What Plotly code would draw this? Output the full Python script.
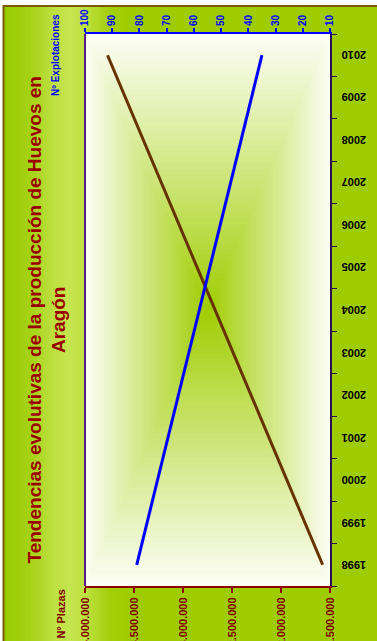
import plotly.graph_objects as go

# ---------------- data ----------------
years = ["1998", "1999", "2000", "2001", "2002", "2003", "2004",
         "2005", "2006", "2007", "2008", "2009", "2010"]
trend_years = ["1998", "2010"]
plazas = [1575000, 3770000]          # Nº Plazas (bottom axis)
explotaciones = [81, 35]              # Nº Explotaciones (top axis)
plazas_ticks = [1500000, 2000000, 2500000, 3000000, 3500000, 4000000]
explot_ticks = [10, 20, 30, 40, 50, 60, 70, 80, 90, 100]

title_text = "Tendencias evolutivas de la producción de Huevos en<br>Aragón"

# ---------------- geometry helpers ----------------
WIDTH, HEIGHT = 377, 641
L, R, T, B = 85, 330, 34, 586
PW, PH = R - L, B - T


def px(x):
    return (x - L) / PW


def py(y):
    return (B - y) / PH


def rgb(c):
    return "rgb(%d,%d,%d)" % tuple(int(round(v)) for v in c)


def lerp(a, b, t):
    return tuple(a[i] + (b[i] - a[i]) * t for i in range(3))


shapes = []

# outer green background with light vertical band on the left
base_green = (159, 204, 0)
shapes.append(dict(type="rect", xref="paper", yref="paper",
                   x0=px(4), x1=px(400), y0=py(6), y1=py(680),
                   fillcolor=rgb(base_green), line=dict(width=0), layer="below"))
stops = [(4, (152, 201, 0)), (30, (166, 210, 22)), (55, (190, 225, 66)),
         (70, (197, 229, 78)), (85, (190, 225, 64)), (110, (163, 206, 10)),
         (130, base_green)]
step = 3
xx = 4
while xx < 130:
    xm = xx + step / 2
    for i in range(len(stops) - 1):
        if stops[i][0] <= xm <= stops[i + 1][0]:
            t = (xm - stops[i][0]) / (stops[i + 1][0] - stops[i][0])
            c = lerp(stops[i][1], stops[i + 1][1], t)
            break
    shapes.append(dict(type="rect", xref="paper", yref="paper",
                       x0=px(xx), x1=px(xx + step + 0.5), y0=py(6), y1=py(680),
                       fillcolor=rgb(c), line=dict(width=0), layer="below"))
    xx += step

# plot area: rectangular gradient white edges -> green centre
edge = (253, 254, 246)
centre = (158, 205, 0)
N = 45
for i in range(N, 0, -1):
    t = i / N
    tm = (i - 0.5) / N
    c = lerp(centre, edge, tm ** 0.95)
    shapes.append(dict(type="rect", xref="paper", yref="paper",
                       x0=0.5 - 0.5 * t, x1=0.5 + 0.5 * t,
                       y0=0.5 - 0.5 * t, y1=0.5 + 0.5 * t,
                       fillcolor=rgb(c), line=dict(width=0), layer="below"))

# left purple border of plot area
shapes.append(dict(type="line", xref="paper", yref="paper",
                   x0=0, x1=0, y0=0, y1=1,
                   line=dict(color="#5a1a8a", width=2), layer="above"))

# outer brown border
shapes.append(dict(type="rect", xref="paper", yref="paper",
                   x0=px(3.5), x1=px(420), y0=py(6), y1=py(700),
                   fillcolor="rgba(0,0,0,0)", line=dict(color="#7a5a00", width=2),
                   layer="above"))

fig = go.Figure()
fig.add_trace(go.Scatter(x=plazas, y=trend_years, xaxis="x", yaxis="y",
                         mode="lines", line=dict(color="#663300", width=3),
                         name="Nº Plazas", showlegend=False, hoverinfo="x+y"))
fig.add_trace(go.Scatter(x=explotaciones, y=trend_years, xaxis="x2", yaxis="y",
                         mode="lines", line=dict(color="#0000ff", width=3),
                         name="Nº Explotaciones", showlegend=False, hoverinfo="x+y"))

font_family = "Arial, Liberation Sans, sans-serif"

annotations = [
    dict(text="<b>" + title_text + "</b>", xref="paper", yref="paper",
         x=px(46.5), y=py(320), xanchor="center", yanchor="middle",
         textangle=-90, showarrow=False, align="center",
         font=dict(family=font_family, size=19, color="#990000")),
    dict(text="<b>Nº Explotaciones</b>", xref="paper", yref="paper",
         x=px(56), y=py(55), xanchor="center", yanchor="middle",
         textangle=-90, showarrow=False,
         font=dict(family=font_family, size=10, color="#0000ff")),
    dict(text="<b>Nº Plazas</b>", xref="paper", yref="paper",
         x=px(60), y=py(588), xanchor="center", yanchor="top",
         textangle=-90, showarrow=False,
         font=dict(family=font_family, size=11, color="#800000")),
]
# year labels (upside down), placed on the category axis by index
for idx, yr in enumerate(years):
    annotations.append(dict(text="<b>" + yr + "</b>", xref="paper", yref="y",
                            x=px(354), y=idx, xanchor="center", yanchor="middle",
                            textangle=180, showarrow=False,
                            font=dict(family=font_family, size=11, color="#000000")))

fig.update_layout(
    width=WIDTH, height=HEIGHT,
    autosize=False,
    margin=dict(l=L, r=WIDTH - R, t=T, b=HEIGHT - B, pad=0, autoexpand=False),
    paper_bgcolor="white",
    plot_bgcolor="rgba(0,0,0,0)",
    separators=",.",
    showlegend=False,
    shapes=shapes,
    annotations=annotations,
    xaxis=dict(range=[4000000, 1500000], tickvals=plazas_ticks, tickformat=",d",
               side="bottom", showgrid=False, zeroline=False, automargin=False,
               showline=True, linecolor="#8b0000", linewidth=2,
               ticks="outside", ticklen=5, tickwidth=2, tickcolor="#8b0000",
               tickangle=-90,
               tickfont=dict(family=font_family, size=11, color="#800000", weight="bold")),
    xaxis2=dict(range=[100, 10], tickvals=explot_ticks, overlaying="x",
                side="top", showgrid=False, zeroline=False, automargin=False,
                showline=True, linecolor="#0000ff", linewidth=2,
                ticks="outside", ticklen=4, tickwidth=2, tickcolor="#0000ff",
                tickangle=-90,
                tickfont=dict(family=font_family, size=10, color="#0000ff", weight="bold")),
    yaxis=dict(type="category", categoryorder="array", categoryarray=years,
               tickvals=years, range=[-0.5, 12.5], side="right",
               showgrid=False, zeroline=False, automargin=False,
               showline=True, linecolor="#2b1050", linewidth=2,
               ticks="outside", ticklen=5, tickwidth=1, tickcolor="#2b1050",
               tickson="boundaries", showticklabels=False),
)

fig.write_html("out.html",
               config={"displayModeBar": False},
               post_script="document.body.style.margin='0px';"
                           "document.body.style.overflow='hidden';")
